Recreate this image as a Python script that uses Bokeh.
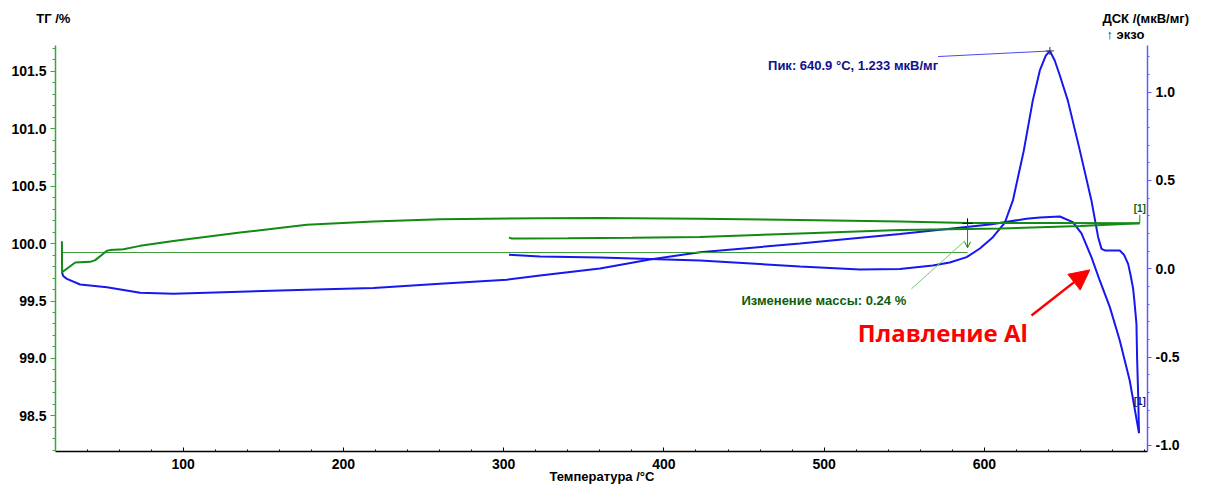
from bokeh.plotting import figure
from bokeh.models import (Range1d, LinearAxis, FixedTicker, NumeralTickFormatter,
                          Label, Arrow, NormalHead, OpenHead)
from bokeh.embed import file_html
from bokeh.resources import INLINE

# ---------------- data ----------------
tg_heat_T = [24.3, 24.4, 32.6, 42.0, 45.1, 52.4, 54.4, 62.7, 73.1, 93.9, 135.5, 177.1,
             218.7, 260.3, 322.7, 360.1, 422.5, 484.9, 547.3, 589.5, 641.0, 697.0]
tg_heat = [100.02, 99.75, 99.835, 99.841, 99.856, 99.937, 99.943, 99.951, 99.980, 100.023,
           100.096, 100.163, 100.191, 100.212, 100.221, 100.223, 100.215, 100.206, 100.193,
           100.180, 100.180, 100.176]

tg_cool_T = [697.0, 660.0, 610.0, 547.3, 485.0, 422.5, 380.0, 340.0, 310.0, 305.0, 303.3]
tg_cool = [100.176, 100.152, 100.132, 100.117, 100.088, 100.058, 100.050, 100.046,
           100.044, 100.044, 100.052]

dsc_heat_T = [24.3, 25.1, 27.4, 35.7, 52.4, 73.1, 93.9, 125.1, 177.1, 218.7, 260.3, 301.9,
              322.7, 360.1, 391.3, 422.5, 484.9, 547.3, 603.4, 626.3, 634.6, 647.1, 655.2,
              660.6, 666.8, 672.0, 678.3, 684.5, 690.7, 696.5]
dsc_heat = [-0.019, -0.041, -0.057, -0.089, -0.104, -0.136, -0.141, -0.132, -0.119, -0.108,
            -0.085, -0.062, -0.038, 0.002, 0.053, 0.094, 0.143, 0.197, 0.251, 0.283, 0.290,
            0.296, 0.264, 0.200, 0.066, -0.066, -0.217, -0.406, -0.632, -0.930]

dsc_cool_T = [696.5, 695.9, 695.3, 694.9, 693.6, 692.8, 691.3, 689.7, 687.1, 684.5, 675.2,
              673.1, 671.0, 666.8, 659.6, 652.1, 647.1, 643.9, 640.9, 638.3, 634.6, 630.2,
              624.6, 617.8, 612.8, 605.3, 597.2, 588.9, 578.4, 567.8, 547.3, 522.3, 484.9,
              422.5, 360.1, 322.7, 303.3]
dsc_cool = [-0.930, -0.689, -0.500, -0.311, -0.180, -0.111, -0.038, 0.028, 0.080, 0.104,
            0.104, 0.113, 0.179, 0.387, 0.669, 0.952, 1.094, 1.179, 1.233, 1.207, 1.123,
            0.952, 0.669, 0.387, 0.262, 0.179, 0.115, 0.066, 0.036, 0.019, -0.001, -0.004,
            0.013, 0.047, 0.064, 0.070, 0.079]

peak_T = 640.9
peak_dsc = 1.233
mass_T = 589.5
mass_top = 100.176
mass_base = 99.922
mass_change = 0.24

x_ticks = [100, 200, 300, 400, 500, 600]
x_minor = [40, 60, 80, 120, 140, 160, 180, 220, 240, 260, 280, 320, 340, 360, 380,
           420, 440, 460, 480, 520, 540, 560, 580, 620, 640, 660, 680, 700]
tg_ticks = [98.5, 99.0, 99.5, 100.0, 100.5, 101.0, 101.5]
tg_minor = [98.2, 98.3, 98.4, 98.6, 98.7, 98.8, 98.9, 99.1, 99.2, 99.3, 99.4, 99.6, 99.7,
            99.8, 99.9, 100.1, 100.2, 100.3, 100.4, 100.6, 100.7, 100.8, 100.9, 101.1,
            101.2, 101.3, 101.4, 101.6, 101.7]
dsc_ticks = [-1.0, -0.5, 0.0, 0.5, 1.0]
dsc_minor = [-0.9, -0.8, -0.7, -0.6, -0.4, -0.3, -0.2, -0.1, 0.1, 0.2, 0.3, 0.4,
             0.6, 0.7, 0.8, 0.9, 1.1, 1.2]

# ---------------- styles ----------------
GREEN = "#138a13"
BLUE = "#1717ee"
FONT = "Liberation Sans"

p = figure(frame_width=1092, frame_height=406, output_backend="svg", toolbar_location=None,
           x_range=Range1d(20.3, 701.8), y_range=Range1d(98.19, 101.724),
           min_border_left=55, min_border_right=50, min_border_top=42, min_border_bottom=36)
p.outline_line_color = None
p.grid.visible = False
p.background_fill_color = "white"
p.border_fill_color = "white"
p.extra_y_ranges = {"dsc": Range1d(-1.034, 1.264)}

# x axis
xa = p.xaxis[0]
xa.ticker = FixedTicker(ticks=x_ticks, minor_ticks=x_minor)
xa.axis_line_color = "black"
xa.axis_line_width = 1.5
xa.major_tick_in = 4
xa.major_tick_out = 0
xa.minor_tick_in = 2
xa.minor_tick_out = 0
xa.major_tick_line_color = "black"
xa.minor_tick_line_color = "black"
xa.major_label_standoff = 7
xa.major_label_text_font = FONT
xa.major_label_text_font_size = "14px"
xa.major_label_text_font_style = "bold"
xa.major_label_text_color = "black"

# left (TG) axis
ya = p.yaxis[0]
ya.ticker = FixedTicker(ticks=tg_ticks, minor_ticks=tg_minor)
ya.formatter = NumeralTickFormatter(format="0.0")
ya.axis_line_color = "#3aa83a"
ya.axis_line_width = 1.5
ya.major_tick_line_color = "#3aa83a"
ya.minor_tick_line_color = "#3aa83a"
ya.major_tick_in = 0
ya.major_tick_out = 5
ya.minor_tick_in = 0
ya.minor_tick_out = 3
ya.major_label_standoff = 4
ya.major_label_text_font = FONT
ya.major_label_text_font_size = "14px"
ya.major_label_text_font_style = "bold"
ya.major_label_text_color = "black"

# right (DSC) axis
ra = LinearAxis(y_range_name="dsc", ticker=FixedTicker(ticks=dsc_ticks, minor_ticks=dsc_minor),
                formatter=NumeralTickFormatter(format="0.0"))
ra.axis_line_color = "#5c5cff"
ra.axis_line_width = 1.5
ra.major_tick_line_color = "#5c5cff"
ra.minor_tick_line_color = "#5c5cff"
ra.major_tick_in = 0
ra.major_tick_out = 4
ra.minor_tick_in = 0
ra.minor_tick_out = 2
ra.major_label_standoff = 4
ra.major_label_text_font = FONT
ra.major_label_text_font_size = "14px"
ra.major_label_text_font_style = "bold"
ra.major_label_text_color = "black"
p.add_layout(ra, "right")

# ---------------- curves ----------------
p.line(dsc_heat_T, dsc_heat, y_range_name="dsc", line_color=BLUE, line_width=2)
p.line(dsc_cool_T, dsc_cool, y_range_name="dsc", line_color=BLUE, line_width=2)

p.line([tg_heat_T[0], mass_T], [mass_base, mass_base], line_color="#3a9a3a", line_width=1)
p.line(tg_heat_T, tg_heat, line_color=GREEN, line_width=2)
p.line(tg_cool_T, tg_cool, line_color=GREEN, line_width=2)

# peak annotation
p.line([571.1, peak_T], [1.2015, peak_dsc], y_range_name="dsc", line_color="#4a4af0", line_width=1)
p.scatter([peak_T], [peak_dsc], y_range_name="dsc", marker="cross", size=8,
          line_color="#333333", line_width=1)
p.add_layout(Label(x=571.1, y=1.150, y_range_name="dsc",
                   text="Пик: %.1f °C, %.3f мкВ/мг" % (peak_T, peak_dsc),
                   text_align="right", text_baseline="middle", text_font=FONT,
                   text_font_size="13px", text_font_style="bold", text_color="#10108c"))

# mass change annotation
p.add_layout(Arrow(end=OpenHead(size=6, line_color=GREEN, line_width=1),
                   x_start=mass_T, y_start=mass_top, x_end=mass_T, y_end=99.963,
                   line_color=GREEN, line_width=1))
p.scatter([mass_T], [mass_top], marker="cross", size=10, line_color="black", line_width=1)
p.line([587.8, 554.5], [100.023, 99.606], line_color="#7cc47c", line_width=1)
p.add_layout(Label(x=499.8, y=99.508, text="Изменение массы: %.2f %%" % mass_change,
                   text_align="center", text_baseline="middle", text_font=FONT,
                   text_font_size="13px", text_font_style="bold", text_color="#0b5e0b"))

# [1] markers
p.line([697.0, 697.0], [100.25, 100.18], line_color=GREEN, line_width=1)
p.add_layout(Label(x=697.0, y=100.302, text="[1]", text_align="center", text_baseline="middle",
                   text_font=FONT, text_font_size="10px", text_font_style="bold",
                   text_color="#0b5e0b"))
p.add_layout(Label(x=697.0, y=-0.751, y_range_name="dsc", text="[1]", text_align="center",
                   text_baseline="middle", text_font=FONT, text_font_size="10px",
                   text_font_style="bold", text_color="#1a1a80"))

# melting annotation
p.add_layout(Arrow(end=NormalHead(size=20, fill_color="#ff0000", line_color="#ff0000"),
                   x_start=629.4, y_start=-0.264, x_end=665.8, y_end=-0.006,
                   y_range_name="dsc", line_color="#ff0000", line_width=2.5))
p.add_layout(Label(x=521.0, y=-0.359, y_range_name="dsc", text="Плавление Al",
                   text_align="left", text_baseline="middle", text_font="Open Sans",
                   text_font_size="24px", text_font_style="bold", text_color="#ff0000"))

# axis titles (placed in side panels so they are not clipped to the frame)
p.add_layout(Label(x=8.26, y=101.963, text="ТГ /%", text_align="left", text_baseline="middle",
                   text_font=FONT, text_font_size="13px", text_font_style="bold",
                   text_color="black"), "above")
p.add_layout(Label(x=673.7, y=101.963, text="ДСК /(мкВ/мг)", text_align="left",
                   text_baseline="middle", text_font=FONT, text_font_size="13px",
                   text_font_style="bold", text_color="black"), "above")
p.add_layout(Label(x=676.2, y=101.824, text="↑ экзо", text_align="left",
                   text_baseline="middle", text_font=FONT, text_font_size="13px",
                   text_font_style="bold", text_color="black"), "above")
p.add_layout(Label(x=361.3, y=97.975, text="Температура /°C", text_align="center",
                   text_baseline="middle", text_font=FONT, text_font_size="13px",
                   text_font_style="bold", text_color="black"), "below")

open("out.html", "w").write(file_html(p, INLINE))
